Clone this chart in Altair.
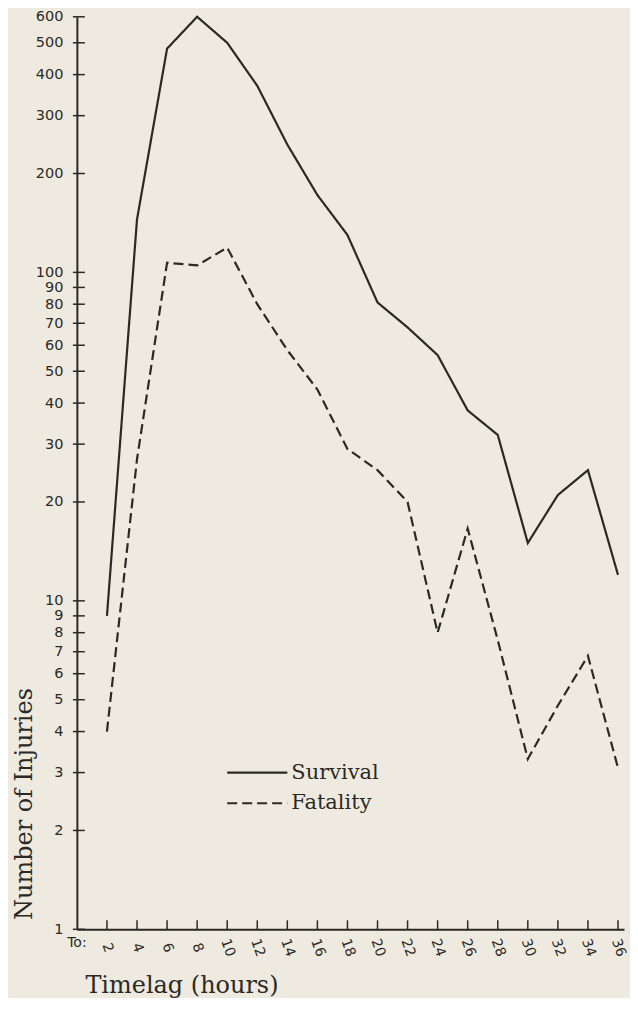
import altair as alt
import pandas as pd

# ---- data ----
HOURS = [2, 4, 6, 8, 10, 12, 14, 16, 18, 20, 22, 24, 26, 28, 30, 32, 34, 36]
SURVIVAL = [9, 145, 480, 600, 500, 370, 245, 172, 130, 81, 68, 56, 38, 32, 15, 21, 25, 12]
FATALITY = [4, 27, 107, 105, 119, 80, 58, 44, 29, 25, 20, 8, 16.6, 7.6, 3.3, 4.8, 6.8, 3.1]
SERIES = ["Survival", "Fatality"]
Y_TICKS = [1, 2, 3, 4, 5, 6, 7, 8, 9, 10, 20, 30, 40, 50, 60, 70, 80, 90, 100, 200, 300, 400, 500, 600]
X_TICKS = HOURS
LEGEND_Y = [3.0, 2.42]
LEGEND_X = [10, 14]
X_TITLE = "Timelag (hours)"
Y_TITLE = "Number of Injuries"
PREFIX = "To:"

INK = "#2b2926"
BG = "#efeae0"
W, H = 548, 914

rows = []
for h, s, f in zip(HOURS, SURVIVAL, FATALITY):
    rows.append({"hours": h, "count": s, "series": SERIES[0]})
    rows.append({"hours": h, "count": f, "series": SERIES[1]})
df = pd.DataFrame(rows)

xs = alt.Scale(domain=[0, 36.4], nice=False, zero=False)
ys = alt.Scale(type="log", domain=[1, 600], nice=False)
dash = alt.Scale(domain=SERIES, range=[[1, 0], [10, 5]])

X_AXIS = alt.Axis(
    values=X_TICKS, tickSize=0, grid=False, labelAngle=70, labelAlign="center",
    labelBaseline="middle", labelPadding=18, labelFont="DejaVu Sans", labelFontSize=14,
    labelColor=INK, labelOverlap=False, domainColor=INK, domainWidth=2,
    title=X_TITLE, titleFont="DejaVu Serif", titleFontSize=24, titleFontWeight="normal",
    titleColor=INK, titleAnchor="start", titleAlign="left", titleBaseline="middle",
    titleX=8, titleY=56)
Y_AXIS = alt.Axis(
    values=Y_TICKS, tickSize=0, grid=False, labelPadding=14, labelFont="DejaVu Sans",
    labelFontSize=14.5, labelColor=INK, labelOverlap=False, domainColor=INK, domainWidth=2,
    title=Y_TITLE, titleFont="DejaVu Serif", titleFontSize=24, titleFontWeight="normal",
    titleColor=INK, titleAngle=-90, titleAlign="center", titleBaseline="middle",
    titleX=-52, titleY=788)

lines = alt.Chart(df).mark_line(color=INK, strokeWidth=2.2).encode(
    x=alt.X("hours:Q", scale=xs, axis=X_AXIS),
    y=alt.Y("count:Q", scale=ys, axis=Y_AXIS),
    strokeDash=alt.StrokeDash("series:N", scale=dash, legend=None),
)

ytick_df = pd.DataFrame({"v": Y_TICKS})
yticks = alt.Chart(ytick_df).mark_rule(color=INK, strokeWidth=1.5).encode(
    y=alt.Y("v:Q", scale=ys, axis=Y_AXIS),
    x=alt.value(-4), x2=alt.value(8),
)

xtick_df = pd.DataFrame({"v": X_TICKS})
xticks = alt.Chart(xtick_df).mark_rule(color=INK, strokeWidth=1.5).encode(
    x=alt.X("v:Q", scale=xs, axis=X_AXIS),
    y=alt.value(H), y2=alt.value(H - 9),
)

prefix = alt.Chart(pd.DataFrame({"t": [PREFIX]})).mark_text(
    font="DejaVu Sans", fontSize=14, color=INK, align="center", baseline="middle"
).encode(x=alt.datum(0, scale=xs, axis=X_AXIS), y=alt.value(H + 14), text="t:N")

leg_df = pd.DataFrame({"series": SERIES, "x0": [LEGEND_X[0]] * 2,
                       "x1": [LEGEND_X[1]] * 2, "y": LEGEND_Y})
leg_lines = alt.Chart(leg_df).mark_rule(color=INK, strokeWidth=2.2).encode(
    x=alt.X("x0:Q", scale=xs, axis=X_AXIS), x2="x1:Q",
    y=alt.Y("y:Q", scale=ys, axis=Y_AXIS),
    strokeDash=alt.StrokeDash("series:N", scale=dash, legend=None),
)
leg_text = alt.Chart(leg_df).mark_text(
    font="DejaVu Serif", fontSize=21, color=INK, align="left", baseline="middle", dx=4
).encode(
    x=alt.X("x1:Q", scale=xs, axis=X_AXIS),
    y=alt.Y("y:Q", scale=ys, axis=Y_AXIS),
    text="series:N",
)

chart = alt.layer(lines, yticks, xticks, prefix, leg_lines, leg_text).properties(
    width=W, height=H, background=BG,
    padding={"left": 5, "top": 0, "right": 2, "bottom": 0},
).configure_view(stroke=None)

chart.save("out.html", embed_options={"renderer": "svg", "actions": False})
